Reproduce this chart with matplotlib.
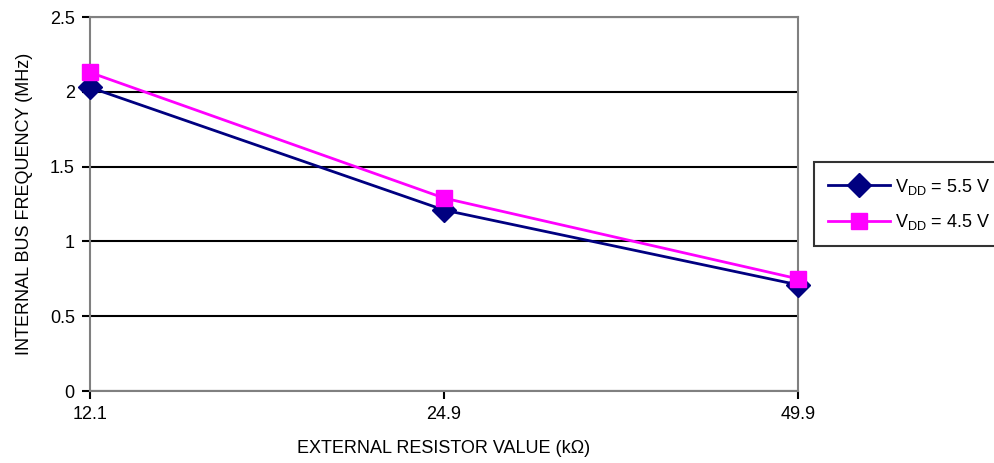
import matplotlib
matplotlib.use('Agg')
import matplotlib.pyplot as plt

plt.rcParams['font.family'] = ['Liberation Sans Narrow', 'Liberation Sans', 'DejaVu Sans']
plt.rcParams['mathtext.fontset'] = 'custom'
plt.rcParams['mathtext.rm'] = 'Liberation Sans'

resistor = ['12.1', '24.9', '49.9']
freq_55 = [2.03, 1.21, 0.71]
freq_45 = [2.13, 1.29, 0.75]
series_labels = [r'V$_{\mathrm{DD}}$ = 5.5 V', r'V$_{\mathrm{DD}}$ = 4.5 V']

fig = plt.figure(figsize=(9.95, 4.63), dpi=100)
ax = fig.add_axes([0.0905, 0.1555, 0.7115, 0.8075])

pos = list(range(len(resistor)))
ax.plot(pos, freq_55, color='#000080', lw=2.0, marker='D', ms=12,
        mfc='#000080', mec='#000080', label=series_labels[0], zorder=3, clip_on=False)
ax.plot(pos, freq_45, color='#FF00FF', lw=2.0, marker='s', ms=11,
        mfc='#FF00FF', mec='#FF00FF', label=series_labels[1], zorder=4, clip_on=False)

ax.set_xlim(0, len(resistor) - 1)
ax.set_ylim(0, 2.5)
ax.set_xticks(pos)
ax.set_xticklabels(resistor)
ax.set_yticks([0, 0.5, 1, 1.5, 2, 2.5])
ax.set_yticklabels(['0', '0.5', '1', '1.5', '2', '2.5'])
ax.yaxis.grid(True, color='black', lw=1.5)
ax.set_axisbelow(True)
for s in ax.spines.values():
    s.set_color('#808080')
    s.set_linewidth(1.5)
ax.tick_params(axis='both', direction='out', length=6, width=1.5, color='black',
               labelsize=13, pad=5)

ax.set_xlabel('EXTERNAL RESISTOR VALUE (kΩ)', fontsize=13, labelpad=12)
ax.set_ylabel('INTERNAL BUS FREQUENCY (MHz)', fontsize=13, labelpad=12)

leg = ax.legend(loc='center left', bbox_to_anchor=(0.818, 0.559),
                bbox_transform=fig.transFigure, fontsize=13, frameon=True,
                fancybox=False, edgecolor='black', handlelength=3.4,
                borderpad=0.8, labelspacing=0.85, handletextpad=0.3,
                borderaxespad=0)
leg.get_frame().set_linewidth(1.5)

fig.savefig('out.png', dpi=100)
